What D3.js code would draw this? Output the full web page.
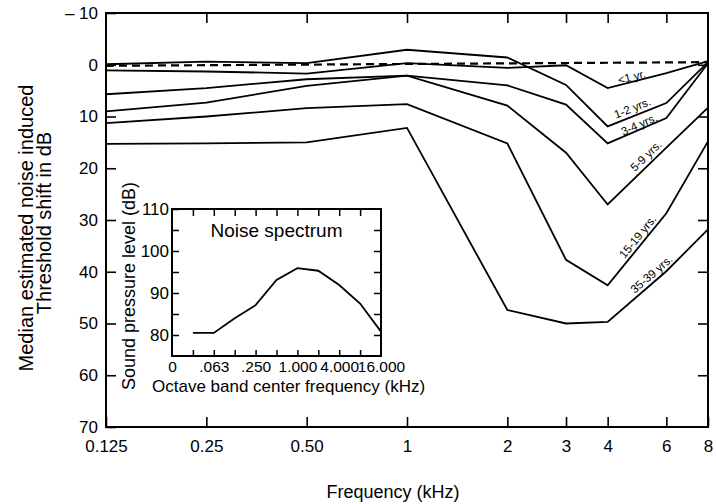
<!DOCTYPE html>
<html><head><meta charset="utf-8">
<script src="https://cdn.jsdelivr.net/npm/d3@7"></script>
<style>
body{margin:0;background:#fff}
svg{display:block}
text{font-family:"Liberation Sans",Arial,Helvetica,sans-serif;fill:#000}
</style>
</head><body>
<svg id="chart" width="716" height="504"></svg>
<script>
// ---- main chart data ----
const freqs = [0.125, 0.25, 0.5, 1, 2, 3, 4, 6, 8];
const ageGroups = ["<1 yr.", "1-2 yrs.", "3-4 yrs.", "5-9 yrs.", "15-19 yrs.", "35-39 yrs."];
const shiftLt1   = [1.1, 1.3, 1.7, -0.3, 0.6, 0.1, 4.5, 1.6, -0.7];
const shift1_2   = [-0.1, -0.6, -0.3, -2.9, -1.4, 3.9, 11.9, 7.4, -0.5];
const shift3_4   = [5.7, 4.5, 2.8, 2.1, 4.0, 7.7, 15.2, 10.3, -0.3];
const shift5_9   = [9.0, 7.3, 4.1, 2.1, 7.9, 17.0, 27.0, 16.0, 8.3];
const shift15_19 = [11.3, 10.0, 8.4, 7.6, 15.2, 37.7, 42.6, 28.7, 14.8];
const shift35_39 = [15.3, 15.2, 15.0, 12.2, 47.4, 50.0, 49.7, 39.9, 31.8];
const refFreqs = [0.125, 8];
const refValues = [0.2, -0.5];
const xTickValues = [0.125, 0.25, 0.5, 1, 2, 3, 4, 6, 8];
const xTickLabels = ["0.125", "0.25", "0.50", "1", "2", "3", "4", "6", "8"];
const yTickValues = [-10, 0, 10, 20, 30, 40, 50, 60, 70];
const yTickLabels = ["\u2013 10", "0", "10", "20", "30", "40", "50", "60", "70"];

// ---- inset data ----
const bandFreqs = [0.03125, 0.0625, 0.125, 0.25, 0.5, 1, 2, 4, 8, 16];
const splValues = [80.5, 80.5, 84.0, 87.1, 93.1, 95.9, 95.3, 91.9, 87.5, 80.8];
const bandTickValues = [0.03125, 0.0625, 0.125, 0.25, 0.5, 1, 2, 4, 8];
const bandLabelValues = [0.015625, 0.0625, 0.25, 1, 4, 16];
const bandLabels = ["0", ".063", ".250", "1.000", "4.000", "16.000"];
const splTickValues = [80, 85, 90, 95, 100, 105, 110];

const series = [shiftLt1, shift1_2, shift3_4, shift5_9, shift15_19, shift35_39];

// label placement (segment index pair, fraction along, perpendicular offset px)
const labelPlacement = [
  {seg:[6,7], t:0.43, off:5},
  {seg:[6,7], t:0.47, off:8},
  {seg:[6,7], t:0.57, off:5},
  {seg:[6,8], t:0.44, off:8.5},
  {seg:[6,7], t:0.61, off:7.5},
  {seg:[6,7], t:0.83, off:7.5}
];

const svg = d3.select("#chart");
svg.append("rect").attr("width",716).attr("height",504).attr("fill","#fff");

const L = 106, R = 708, T = 13, B = 427;
const x = d3.scaleLog().domain([0.125, 8]).range([L, R]);
const y = d3.scaleLinear().domain([-10, 70]).range([T, B]);

const fmtX = d => xTickLabels[xTickValues.indexOf(d)];
const fmtY = d => yTickLabels[yTickValues.indexOf(d)];

const gB = svg.append("g").attr("transform",`translate(0,${B})`)
  .call(d3.axisBottom(x).tickValues(xTickValues).tickFormat(fmtX).tickSizeInner(-10).tickSizeOuter(0).tickPadding(13));
const gT = svg.append("g").attr("transform",`translate(0,${T})`)
  .call(d3.axisTop(x).tickValues(xTickValues.slice(1,-1)).tickFormat("").tickSizeInner(-10).tickSizeOuter(0));
const gL = svg.append("g").attr("transform",`translate(${L},0)`)
  .call(d3.axisLeft(y).tickValues(yTickValues).tickFormat(fmtY).tickSizeInner(-10).tickSizeOuter(0).tickPadding(8));
const gR = svg.append("g").attr("transform",`translate(${R},0)`)
  .call(d3.axisRight(y).tickValues(yTickValues.slice(1,-1)).tickFormat("").tickSizeInner(-10).tickSizeOuter(0));
[gB,gT,gL,gR].forEach(g=>{
  g.select(".domain").remove();
  g.selectAll(".tick line").attr("stroke","#000").attr("stroke-width",1.6);
  g.selectAll(".tick text").attr("font-size",17).attr("fill","#000");
});

svg.append("rect").attr("x",L).attr("y",T).attr("width",R-L).attr("height",B-T)
  .attr("fill","none").attr("stroke","#000").attr("stroke-width",2);

svg.append("path")
  .datum(refFreqs.map((f,i)=>({f, v:refValues[i]})))
  .attr("d", d3.line().x(d=>x(d.f)).y(d=>y(d.v)))
  .attr("fill","none").attr("stroke","#000").attr("stroke-width",2.2)
  .attr("stroke-dasharray","8,5");

const line = d3.line().x(d=>x(d.f)).y(d=>y(d.v));
series.forEach((vals, si)=>{
  const pts = freqs.map((f,i)=>({f, v:vals[i]}));
  svg.append("path").datum(pts).attr("d", line)
    .attr("fill","none").attr("stroke","#000").attr("stroke-width",1.8)
    .attr("stroke-linejoin","miter");
  const lp = labelPlacement[si];
  const p0 = [x(freqs[lp.seg[0]]), y(vals[lp.seg[0]])];
  const p1 = [x(freqs[lp.seg[1]]), y(vals[lp.seg[1]])];
  const px = p0[0] + (p1[0]-p0[0])*lp.t, py = p0[1] + (p1[1]-p0[1])*lp.t;
  const ang = Math.atan2(p1[1]-p0[1], p1[0]-p0[0]) * 180/Math.PI;
  svg.append("text")
    .attr("transform",`translate(${px},${py}) rotate(${ang})`)
    .attr("x",0).attr("y",-lp.off).attr("dy","0.35em")
    .attr("text-anchor","middle").attr("font-size",11.5)
    .text(ageGroups[si]);
});

svg.append("text").attr("x",393).attr("y",498).attr("text-anchor","middle")
  .attr("font-size",18).text("Frequency (kHz)");
svg.append("text").attr("transform","translate(33,228) rotate(-90)")
  .attr("text-anchor","middle").attr("font-size",20).text("Median estimated noise induced");
svg.append("text").attr("transform","translate(51,223) rotate(-90)")
  .attr("text-anchor","middle").attr("font-size",20).text("Threshold shift in dB");

// ---- inset ----
const iL = 172, iR = 381, iT = 209, iB = 356;
const xi = d3.scaleLog().base(2).domain([1/64, 16]).range([iL, iR]);
const yi = d3.scaleLinear().domain([75, 110]).range([iB, iT]);

svg.append("rect").attr("x",iL).attr("y",iT).attr("width",iR-iL).attr("height",iB-iT)
  .attr("fill","#fff");

const ig1 = svg.append("g").attr("transform",`translate(0,${iB})`)
  .call(d3.axisBottom(xi).tickValues(bandTickValues).tickFormat("").tickSizeInner(-6).tickSizeOuter(0));
const ig2 = svg.append("g").attr("transform",`translate(0,${iT})`)
  .call(d3.axisTop(xi).tickValues(bandTickValues).tickFormat("").tickSizeInner(-7).tickSizeOuter(0));
const ig3 = svg.append("g").attr("transform",`translate(0,${iB})`)
  .call(d3.axisBottom(xi).tickValues(bandLabelValues)
    .tickFormat(d=>bandLabels[bandLabelValues.indexOf(d)]).tickSize(0).tickPadding(5));
const ig4 = svg.append("g").attr("transform",`translate(${iL},0)`)
  .call(d3.axisLeft(yi).tickValues(splTickValues).tickFormat(d=> d%10===0 ? d : "")
    .tickSizeInner(-7).tickSizeOuter(0).tickPadding(3));
const ig5 = svg.append("g").attr("transform",`translate(${iR},0)`)
  .call(d3.axisRight(yi).tickValues(splTickValues.slice(0,-1)).tickFormat("").tickSizeInner(-7).tickSizeOuter(0));
[ig1,ig2,ig3,ig4,ig5].forEach(g=>{
  g.select(".domain").remove();
  g.selectAll(".tick line").attr("stroke","#000").attr("stroke-width",1.5);
  g.selectAll(".tick text").attr("font-size",17).attr("fill","#000");
});
ig3.selectAll(".tick line").remove();
ig3.selectAll(".tick text").attr("font-size",15.5);

svg.append("rect").attr("x",iL).attr("y",iT).attr("width",iR-iL).attr("height",iB-iT)
  .attr("fill","none").attr("stroke","#000").attr("stroke-width",2);

svg.append("path")
  .datum(bandFreqs.map((f,i)=>({f, v:splValues[i]})))
  .attr("d", d3.line().x(d=>xi(d.f)).y(d=>yi(d.v)))
  .attr("fill","none").attr("stroke","#000").attr("stroke-width",1.8);

svg.append("text").attr("x",(iL+iR)/2).attr("y",237).attr("text-anchor","middle")
  .attr("font-size",19).text("Noise spectrum");
svg.append("text").attr("transform","translate(135,286) rotate(-90)")
  .attr("text-anchor","middle").attr("font-size",18).text("Sound pressure level (dB)");
svg.append("text").attr("x",152).attr("y",392).attr("text-anchor","start")
  .attr("font-size",17).text("Octave band center frequency (kHz)");
</script>
</body></html>
